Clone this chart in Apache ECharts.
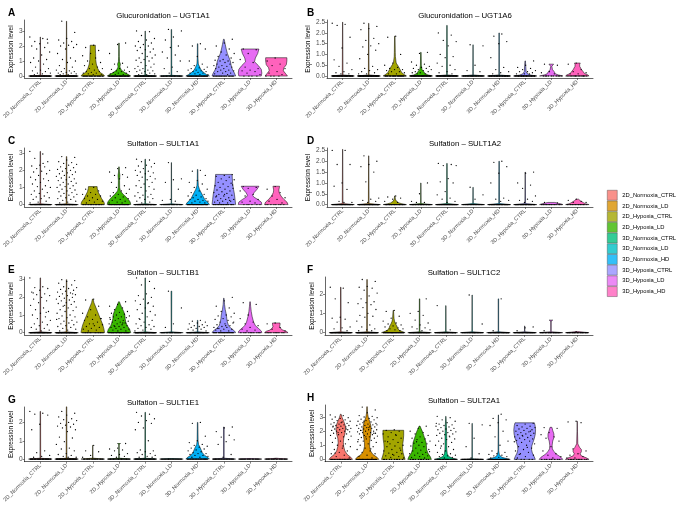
<!DOCTYPE html>
<html>
<head>
<meta charset="utf-8">
<script src="https://cdn.jsdelivr.net/npm/echarts@6/dist/echarts.min.js"></script>
<style>
  html, body { margin: 0; padding: 0; background: #fff; }
  #chart { width: 677px; height: 505px; }
</style>
</head>
<body>
<div id="chart"></div>
<script>
// groups shown on every x axis, in order
const groups = ['2D_Normoxia_CTRL', '2D_Normoxia_LD', '2D_Hypoxia_CTRL', '2D_Hypoxia_LD',
  '3D_Normoxia_CTRL', '3D_Normoxia_LD', '3D_Normoxia_HD', '3D_Hypoxia_CTRL', '3D_Hypoxia_LD', '3D_Hypoxia_HD'];
const colors = ['#F8766D', '#D89000', '#A3A500', '#39B600', '#00BF7D', '#00BFC4', '#00B0F6', '#9590FF', '#E76BF3', '#FF62BC'];

// violin outlines: [expression level, relative half width] per group
// points: non-zero expression values per group, zero: number of cells at 0

// A - UGT1A1
const ugt1a1Shape = [
  [[0, 1], [0.05, 0.03], [2.6, 0.01]],
  [[0, 1], [0.05, 0.03], [3.65, 0.01]],
  [[0, 1], [0.1, 0.9], [0.25, 0.6], [0.5, 0.42], [0.8, 0.3], [1.1, 0.25], [1.5, 0.24], [1.8, 0.22], [2.05, 0.22]],
  [[0, 1], [0.1, 0.8], [0.25, 0.45], [0.4, 0.2], [0.6, 0.08], [0.8, 0.12], [0.95, 0.05], [1.3, 0.03], [2.2, 0.02]],
  [[0, 1], [0.05, 0.03], [3.0, 0.01]],
  [[0, 1], [0.05, 0.03], [3.1, 0.02]],
  [[0, 1], [0.1, 0.75], [0.25, 0.5], [0.4, 0.3], [0.55, 0.2], [0.8, 0.06], [1.2, 0.03], [2.15, 0.02]],
  [[0, 1], [0.2, 0.9], [0.4, 0.75], [0.6, 0.65], [0.8, 0.6], [1.0, 0.55], [1.2, 0.45], [1.5, 0.3], [1.8, 0.2], [2.1, 0.12], [2.45, 0.03]],
  [[0, 0.95], [0.2, 1.0], [0.45, 0.95], [0.7, 0.7], [0.95, 0.38], [1.2, 0.45], [1.5, 0.65], [1.8, 0.75]],
  [[0, 0.95], [0.15, 0.8], [0.35, 0.6], [0.55, 0.65], [0.75, 0.85], [1.0, 0.9], [1.22, 0.9]]
];
const ugt1a1Pts = [
  [2.6, 2.5, 2.3, 2.2, 2.15, 2.0, 1.9, 1.8, 1.6, 1.4, 1.2, 1.1, 1.0, 0.9, 0.8, 0.6, 0.5, 0.4, 0.35, 0.3, 0.2, 0.2, 0.15, 0.1, 2.45],
  [3.65, 2.9, 2.5, 2.4, 2.3, 2.2, 2.1, 2.05, 2.0, 1.9, 1.8, 1.5, 1.2, 1.1, 1.0, 0.9, 0.7, 0.6, 0.5, 0.4, 0.35, 0.3, 0.3, 0.25, 0.2, 0.2, 0.15, 0.15, 0.1, 0.1],
  [2.05, 1.9, 1.7, 1.5, 1.35, 1.2, 1.0, 0.9, 0.8, 0.7, 0.6, 0.5, 0.5, 0.4, 0.3, 0.3, 0.25, 0.2, 0.2, 0.15, 0.1, 0.1],
  [2.2, 2.1, 1.5, 0.85, 0.8, 0.6, 0.5, 0.45, 0.4, 0.35, 0.3, 0.3, 0.25, 0.2, 0.2, 0.15, 0.1, 0.1],
  [3.0, 2.95, 2.7, 2.5, 2.4, 2.3, 2.2, 2.1, 2.0, 2.0, 1.9, 1.8, 1.75, 1.7, 1.6, 1.5, 1.4, 1.3, 1.2, 1.2, 1.1, 1.05, 1.0, 0.9, 0.8, 0.7, 0.65, 0.6, 0.5, 0.5, 0.4, 0.4, 0.35, 0.3, 0.3, 0.2, 0.2, 0.15, 0.1, 0.1],
  [3.1, 3.0, 2.6, 2.4, 2.0, 1.9, 1.6, 1.4, 1.2, 1.0, 0.6, 0.5, 0.3, 0.2],
  [2.15, 2.0, 1.8, 1.3, 1.0, 0.8, 0.7, 0.6, 0.55, 0.5, 0.45, 0.4, 0.4, 0.35, 0.3, 0.3, 0.25, 0.2, 0.2, 0.15, 0.1, 0.1],
  [2.45, 2.2, 2.0, 1.8, 1.6, 1.5, 1.4, 1.3, 1.2, 1.1, 1.05, 1.0, 1.0, 0.9, 0.9, 0.8, 0.8, 0.7, 0.7, 0.65, 0.6, 0.6, 0.5, 0.5, 0.4, 0.4, 0.35, 0.3, 0.3, 0.2, 0.2, 0.15, 0.1],
  [1.8, 1.75, 1.5, 1.1, 0.9, 0.6, 0.5, 0.4, 0.35, 0.3, 0.2, 0.1],
  [1.2, 1.0, 0.8, 0.7, 0.5, 0.3, 0.2, 0.1]
];
const ugt1a1Zero = [60, 70, 30, 50, 60, 40, 45, 20, 4, 4];

// B - UGT1A6
const ugt1a6Shape = [
  [[0, 1], [0.05, 0.03], [2.5, 0.01]],
  [[0, 1], [0.05, 0.03], [2.45, 0.01]],
  [[0, 1], [0.05, 0.85], [0.15, 0.6], [0.3, 0.45], [0.45, 0.3], [0.6, 0.12], [0.9, 0.05], [1.1, 0.04], [1.85, 0.02]],
  [[0, 1], [0.05, 0.6], [0.12, 0.35], [0.2, 0.25], [0.3, 0.1], [0.5, 0.04], [1.1, 0.02]],
  [[0, 1], [0.05, 0.03], [2.35, 0.02]],
  [[0, 1], [0.05, 0.02], [1.45, 0.01]],
  [[0, 1], [0.05, 0.02], [2.0, 0.02]],
  [[0, 1], [0.04, 0.5], [0.1, 0.2], [0.2, 0.08], [0.7, 0.02]],
  [[0, 1], [0.05, 0.6], [0.1, 0.35], [0.2, 0.25], [0.3, 0.1], [0.45, 0.05], [0.55, 0.2]],
  [[0, 1], [0.05, 0.9], [0.12, 0.6], [0.2, 0.5], [0.3, 0.35], [0.45, 0.2], [0.55, 0.2], [0.6, 0.25]]
];
const ugt1a6Pts = [
  [2.45, 2.4, 2.35, 1.8, 1.3, 0.75, 0.6, 0.45, 0.3, 0.2, 0.15, 0.1, 0.1],
  [2.45, 2.3, 2.2, 2.15, 1.75, 1.65, 1.5, 1.4, 1.35, 1.2, 1.0, 0.8, 0.45, 0.35, 0.3, 0.25, 0.2, 0.15, 0.1, 0.1],
  [1.85, 1.8, 1.0, 0.6, 0.5, 0.4, 0.35, 0.3, 0.3, 0.25, 0.2, 0.2, 0.15, 0.1, 0.1],
  [1.1, 1.05, 0.65, 0.55, 0.5, 0.45, 0.4, 0.35, 0.35, 0.3, 0.3, 0.25, 0.2, 0.2, 0.15, 0.15, 0.1, 0.1],
  [2.0, 1.9, 1.65, 1.6, 1.4, 1.0, 0.9, 0.85, 0.6, 0.5, 0.45, 0.3, 0.2, 0.15, 0.1],
  [1.45, 1.4, 0.5, 0.25, 0.2],
  [1.95, 1.85, 1.6, 1.5, 0.85, 0.4, 0.3, 0.2, 0.15, 0.1],
  [0.7, 0.5, 0.4, 0.35, 0.3, 0.25, 0.2, 0.2, 0.15, 0.1, 0.1, 0.1],
  [0.55, 0.5, 0.2, 0.15, 0.1],
  [0.6, 0.55, 0.3, 0.2, 0.15, 0.1, 0.1]
];
const ugt1a6Zero = [50, 60, 30, 50, 50, 35, 45, 40, 10, 15];

// C - SULT1A1
const sult1a1Shape = [
  [[0, 1], [0.05, 0.03], [3.1, 0.02]],
  [[0, 1], [0.05, 0.03], [2.8, 0.02]],
  [[0, 1], [0.15, 0.95], [0.35, 0.75], [0.55, 0.6], [0.75, 0.45], [0.95, 0.38], [1.05, 0.37]],
  [[0, 1], [0.15, 0.95], [0.3, 0.8], [0.45, 0.6], [0.6, 0.35], [0.8, 0.12], [1.0, 0.06], [1.4, 0.05], [1.7, 0.08], [1.9, 0.04], [2.2, 0.02]],
  [[0, 1], [0.05, 0.03], [2.65, 0.02]],
  [[0, 1], [0.05, 0.02], [2.45, 0.01]],
  [[0, 1], [0.15, 0.85], [0.3, 0.6], [0.5, 0.45], [0.7, 0.3], [0.9, 0.15], [1.1, 0.06], [1.5, 0.03], [2.05, 0.02]],
  [[0, 1], [0.3, 0.95], [0.6, 0.9], [0.9, 0.82], [1.2, 0.75], [1.5, 0.72], [1.76, 0.7]],
  [[0, 1], [0.15, 0.95], [0.3, 0.65], [0.45, 0.3], [0.55, 0.22], [0.7, 0.35], [0.9, 0.6], [1.07, 0.75]],
  [[0, 1], [0.15, 0.9], [0.3, 0.65], [0.5, 0.4], [0.7, 0.25], [0.85, 0.22], [1.07, 0.28]]
];
const sult1a1Pts = [
  [3.1, 2.95, 2.7, 2.5, 2.3, 2.25, 2.2, 2.1, 2.0, 1.95, 1.9, 1.8, 1.7, 1.6, 1.5, 1.45, 1.4, 1.3, 1.2, 1.1, 1.05, 1.0, 0.9, 0.8, 0.7, 0.65, 0.6, 0.5, 0.45, 0.4, 0.35, 0.3, 0.2, 0.15, 0.1, 2.4],
  [2.8, 2.75, 2.6, 2.5, 2.45, 2.4, 2.35, 2.3, 2.2, 2.15, 2.1, 2.05, 2.0, 1.95, 1.9, 1.85, 1.8, 1.75, 1.7, 1.65, 1.6, 1.55, 1.5, 1.45, 1.4, 1.35, 1.3, 1.25, 1.2, 1.15, 1.1, 1.05, 1.0, 0.95, 0.9, 0.85, 0.8, 0.75, 0.7, 0.65, 0.6, 0.55, 0.5, 0.45, 0.4, 0.35, 0.3, 0.25, 0.2, 0.15, 0.1],
  [1.0, 0.9, 0.8, 0.7, 0.6, 0.6, 0.5, 0.5, 0.4, 0.35, 0.3, 0.25, 0.2, 0.15, 0.1],
  [2.15, 2.1, 1.9, 1.75, 1.7, 1.6, 1.5, 1.3, 1.1, 1.0, 0.9, 0.8, 0.7, 0.65, 0.6, 0.5, 0.45, 0.4, 0.35, 0.3, 0.25, 0.2, 0.15, 0.1, 0.1],
  [2.65, 2.6, 2.5, 2.4, 2.3, 2.25, 2.2, 2.1, 2.0, 1.95, 1.9, 1.85, 1.8, 1.7, 1.65, 1.6, 1.5, 1.45, 1.4, 1.3, 1.2, 1.1, 1.05, 1.0, 0.9, 0.8, 0.7, 0.6, 0.55, 0.5, 0.45, 0.4, 0.35, 0.3, 0.2, 0.15, 0.1],
  [2.45, 1.5, 1.45, 1.3, 0.9, 0.3, 0.25, 0.2],
  [2.0, 1.95, 1.7, 1.4, 1.3, 1.2, 1.0, 0.9, 0.8, 0.7, 0.6, 0.55, 0.5, 0.45, 0.4, 0.35, 0.3, 0.3, 0.25, 0.2, 0.2, 0.15, 0.1, 0.1],
  [1.75, 1.7, 1.65, 1.6, 1.5, 1.45, 1.4, 1.3, 1.25, 1.2, 1.1, 1.05, 1.0, 0.95, 0.9, 0.85, 0.8, 0.75, 0.7, 0.65, 0.6, 0.55, 0.5, 0.45, 0.4, 0.35, 0.3, 0.3, 0.25, 0.2, 0.2, 0.15, 0.1, 0.1, 1.15, 0.6, 0.5, 0.25],
  [1.05, 1.0, 0.95, 0.8, 0.6, 0.5, 0.3, 0.2, 0.15, 0.1],
  [1.05, 0.9, 0.7, 0.5, 0.4, 0.3, 0.2, 0.1]
];
const sult1a1Zero = [50, 60, 25, 40, 50, 30, 40, 20, 6, 8];

// D - SULT1A2
const sult1a2Shape = [
  [[0, 1], [0.05, 0.03], [2.55, 0.01]],
  [[0, 1], [0.05, 0.03], [2.25, 0.01]],
  [[0, 1], [0.04, 0.6], [0.08, 0.35], [0.15, 0.15], [0.25, 0.05], [0.4, 0.02]],
  [[0, 1], [0.05, 0.02], [1.0, 0.01]],
  [[0, 1], [0.05, 0.03], [1.9, 0.02]],
  [[0, 1], [0.05, 0.02], [0.8, 0.01]],
  [[0, 1], [0.05, 0.03], [2.0, 0.02]],
  [[0, 1], [0.05, 0.03], [1.5, 0.01]],
  [[0, 1], [0.03, 0.85], [0.06, 0.6], [0.1, 0.3]],
  [[0, 1], [0.04, 0.7], [0.08, 0.55], [0.13, 0.4], [0.18, 0.25], [0.25, 0.1]]
];
const sult1a2Pts = [
  [2.5, 2.5, 1.85, 1.85, 1.0, 0.85, 0.7, 0.15, 0.1, 0.1],
  [2.25, 2.0, 1.85, 1.75, 1.5, 1.05, 0.3, 0.25, 0.2, 0.15, 0.1],
  [0.4, 0.35, 0.3, 0.25, 0.15, 0.1],
  [1.0, 0.5, 0.15, 0.1, 0.1],
  [1.9, 1.85, 1.8, 1.8, 1.2, 1.05, 1.0, 0.6, 0.45, 0.3, 0.25, 0.15, 0.1],
  [0.8, 0.45, 0.25],
  [2.0, 1.95, 1.75, 1.45, 1.0, 0.3, 0.25, 0.2, 0.15],
  [1.5, 1.45, 1.0, 0.9, 0.75, 0.4, 0.25, 0.2, 0.15, 0.1],
  [0.1, 0.08],
  [0.25, 0.2, 0.15, 0.1, 0.1]
];
const sult1a2Zero = [50, 60, 40, 45, 55, 35, 50, 50, 20, 20];

// E - SULT1B1
const sult1b1Shape = [
  [[0, 1], [0.05, 0.03], [3.1, 0.02]],
  [[0, 1], [0.05, 0.03], [3.0, 0.02]],
  [[0, 1], [0.2, 0.95], [0.45, 0.85], [0.7, 0.7], [0.95, 0.55], [1.2, 0.4], [1.45, 0.25], [1.7, 0.1], [1.9, 0.03]],
  [[0, 1], [0.2, 0.9], [0.4, 0.7], [0.6, 0.58], [0.8, 0.52], [1.0, 0.5], [1.2, 0.4], [1.4, 0.25], [1.6, 0.12], [1.75, 0.04]],
  [[0, 1], [0.05, 0.03], [3.1, 0.02]],
  [[0, 1], [0.05, 0.02], [2.35, 0.03]],
  [[0, 1], [0.05, 0.02], [0.7, 0.02]],
  [[0, 1], [0.1, 0.9], [0.25, 0.6], [0.4, 0.4], [0.6, 0.3], [0.8, 0.25], [1.0, 0.22], [1.3, 0.12], [1.6, 0.06], [1.95, 0.02]],
  [[0, 1], [0.1, 0.95], [0.25, 0.7], [0.4, 0.45], [0.6, 0.3], [0.9, 0.18], [1.2, 0.1], [1.5, 0.05], [1.75, 0.02]],
  [[0, 1], [0.08, 0.85], [0.15, 0.55], [0.25, 0.35], [0.35, 0.28], [0.45, 0.32], [0.55, 0.32]]
];
const sult1b1Pts = [
  [3.1, 2.6, 2.55, 2.5, 2.4, 2.3, 2.2, 2.15, 2.1, 2.0, 1.9, 1.8, 1.7, 1.55, 1.4, 1.3, 1.2, 1.1, 1.0, 0.9, 0.8, 0.7, 0.6, 0.5, 0.45, 0.4, 0.3, 0.25, 0.2, 0.15, 0.1, 2.25, 1.15],
  [3.0, 2.95, 2.9, 2.8, 2.7, 2.6, 2.55, 2.5, 2.45, 2.4, 2.35, 2.3, 2.25, 2.2, 2.15, 2.1, 2.05, 2.0, 1.95, 1.9, 1.85, 1.8, 1.75, 1.7, 1.65, 1.6, 1.5, 1.45, 1.4, 1.3, 1.25, 1.2, 1.1, 1.0, 0.95, 0.9, 0.85, 0.8, 0.7, 0.65, 0.6, 0.55, 0.5, 0.45, 0.4, 0.35, 0.3, 0.25, 0.2, 0.15, 0.1, 2.2, 1.55, 0.75],
  [1.9, 1.85, 1.5, 1.3, 1.1, 1.0, 0.9, 0.8, 0.75, 0.7, 0.6, 0.5, 0.45, 0.4, 0.35, 0.3, 0.25, 0.2, 0.15, 0.1, 0.8, 0.5],
  [1.75, 1.6, 1.5, 1.4, 1.3, 1.2, 1.15, 1.1, 1.05, 1.0, 0.95, 0.9, 0.9, 0.85, 0.8, 0.75, 0.7, 0.7, 0.65, 0.6, 0.6, 0.55, 0.5, 0.5, 0.45, 0.4, 0.4, 0.35, 0.3, 0.3, 0.25, 0.2, 0.2, 0.15, 0.1, 0.1, 0.85, 0.55, 0.35],
  [3.1, 2.9, 2.7, 2.5, 2.2, 2.1, 2.0, 1.9, 1.8, 1.7, 1.6, 1.5, 1.4, 1.3, 1.2, 1.1, 1.0, 0.9, 0.8, 0.7, 0.6, 0.5, 0.45, 0.4, 0.35, 0.3, 0.25, 0.2, 0.15, 0.1, 1.65, 0.75],
  [2.35, 1.4, 0.5, 0.3],
  [0.7, 0.65, 0.6, 0.55, 0.5, 0.45, 0.4, 0.4, 0.35, 0.3, 0.3, 0.25, 0.2, 0.2, 0.15, 0.1],
  [2.0, 1.8, 1.5, 1.4, 1.2, 1.1, 1.0, 0.95, 0.9, 0.8, 0.75, 0.7, 0.6, 0.55, 0.5, 0.45, 0.4, 0.35, 0.3, 0.3, 0.25, 0.2, 0.2, 0.15, 0.1, 0.1, 0.6, 0.4, 0.25],
  [1.7, 1.6, 1.0, 0.8, 0.6, 0.5, 0.4, 0.3, 0.2, 0.15, 0.1],
  [0.55, 0.5, 0.3, 0.2, 0.1]
];
const sult1b1Zero = [50, 60, 20, 30, 50, 30, 40, 20, 10, 10];

// F - SULT1C2
const sult1c2Shape = [
  [[0, 1], [0.05, 0.03], [2.35, 0.02]],
  [[0, 1], [0.05, 0.03], [2.75, 0.02]],
  [[0, 1], [0.05, 0.8], [0.12, 0.5], [0.25, 0.35], [0.35, 0.3], [0.45, 0.2], [0.6, 0.1], [0.75, 0.06], [1.15, 0.02]],
  [[0, 1], [0.05, 0.03], [1.75, 0.02]],
  [[0, 1], [0.05, 0.02], [1.4, 0.01]],
  [[0, 1], [0.05, 0.02], [1.95, 0.01]],
  [[0, 1], [0.05, 0.02], [1.75, 0.02]],
  [[0, 1], [0.05, 0.02], [0.35, 0.01]],
  [[0, 1], [0.05, 0.02], [0.6, 0.02], [0.65, 0.15]],
  [[0, 1], [0.03, 0.5], [0.06, 0.02]]
];
const sult1c2Pts = [
  [2.35, 2.3, 1.75, 1.55, 0.8, 0.75, 0.7, 0.55, 0.3, 0.25, 0.2, 0.1],
  [2.75, 2.65, 2.4, 2.35, 2.3, 2.2, 2.05, 1.9, 1.75, 1.6, 1.55, 1.5, 1.45, 1.3, 1.2, 1.0, 0.9, 0.85, 0.8, 0.6, 0.4, 0.3, 0.2, 0.15, 0.1, 0.1],
  [1.15, 1.1, 0.85, 0.75, 0.6, 0.5, 0.45, 0.4, 0.35, 0.3, 0.25, 0.2, 0.2, 0.15, 0.1, 0.1],
  [1.75, 1.1, 1.0, 0.9, 0.65, 0.5, 0.4, 0.3, 0.25, 0.2, 0.15, 0.1],
  [1.4, 0.15],
  [1.95, 0.45],
  [1.75, 0.1],
  [0.3, 0.25, 0.1],
  [0.1],
  [0.05]
];
const sult1c2Zero = [50, 55, 35, 45, 40, 35, 40, 40, 30, 30];

// G - SULT1E1
const sult1e1Shape = [
  [[0, 1], [0.05, 0.03], [2.6, 0.02]],
  [[0, 1], [0.05, 0.03], [2.85, 0.02]],
  [[0, 1], [0.05, 0.02], [0.75, 0.01]],
  [[0, 1], [0.05, 0.02], [0.8, 0.02], [0.85, 0.13]],
  [[0, 1], [0.05, 0.03], [2.55, 0.02]],
  [[0, 1], [0.03, 0.02]],
  [[0, 1], [0.1, 0.85], [0.2, 0.6], [0.35, 0.4], [0.5, 0.3], [0.65, 0.2], [0.8, 0.08], [1.0, 0.04], [2.0, 0.02]],
  [[0, 1], [0.05, 0.03], [1.75, 0.03]],
  [[0, 1], [0.03, 0.02]],
  [[0, 1], [0.03, 0.3], [0.05, 0.02]]
];
const sult1e1Pts = [
  [2.6, 2.5, 2.45, 2.4, 1.9, 1.6, 0.45, 0.35, 0.2, 0.15, 0.1],
  [2.6, 2.5, 2.4, 2.3, 2.2, 2.15, 2.1, 2.0, 1.95, 1.9, 1.85, 1.8, 1.75, 1.7, 1.6, 1.5, 1.2, 1.15, 0.95, 0.8, 0.6, 0.55, 0.45, 0.3, 0.25, 0.2, 0.15, 0.1, 0.1],
  [0.75, 0.45, 0.4, 0.2, 0.1],
  [0.85, 0.6, 0.55, 0.5, 0.45, 0.3, 0.25, 0.2, 0.15, 0.1],
  [2.55, 2.45, 2.35, 2.2, 2.1, 2.0, 1.95, 1.7, 1.6, 1.0, 0.5, 0.45, 0.4, 0.35, 0.3, 0.25, 0.2, 0.15, 0.1, 0.1],
  [],
  [2.0, 1.95, 1.25, 1.0, 0.9, 0.8, 0.75, 0.7, 0.65, 0.6, 0.55, 0.5, 0.45, 0.4, 0.35, 0.3, 0.3, 0.25, 0.2, 0.2, 0.15, 0.1, 0.1],
  [1.75, 1.7, 1.5, 1.3, 1.2, 1.05, 0.95, 0.8, 0.25, 0.1],
  [],
  [0.03]
];
const sult1e1Zero = [50, 60, 30, 40, 50, 35, 35, 35, 30, 30];

// H - SULT2A1
const sult2a1Shape = [
  [[0, 1], [0.15, 0.85], [0.35, 0.55], [0.6, 0.35], [0.9, 0.25], [1.2, 0.22], [1.5, 0.25], [1.8, 0.35], [2.1, 0.4], [2.4, 0.38], [2.7, 0.25], [2.95, 0.12], [3.2, 0.03]],
  [[0, 1], [0.15, 0.85], [0.35, 0.5], [0.6, 0.3], [0.9, 0.22], [1.2, 0.22], [1.5, 0.27], [1.8, 0.32], [2.1, 0.35], [2.4, 0.32], [2.7, 0.22], [3.0, 0.1], [3.3, 0.04], [3.73, 0.02]],
  [[0, 1], [0.25, 0.9], [0.5, 0.82], [0.8, 0.78], [1.1, 0.8], [1.4, 0.85], [1.7, 0.88], [2.06, 0.88]],
  [[0, 1], [0.2, 0.9], [0.45, 0.7], [0.7, 0.6], [0.95, 0.58], [1.2, 0.55], [1.45, 0.45], [1.7, 0.35], [1.95, 0.25], [2.2, 0.12], [2.36, 0.04]],
  [[0, 1], [0.08, 0.6], [0.2, 0.25], [0.4, 0.12], [0.7, 0.08], [1.0, 0.07], [1.5, 0.07], [2.0, 0.06], [2.5, 0.04], [3.05, 0.01]],
  [[0, 1], [0.05, 0.02], [2.55, 0.01]],
  [[0, 1], [0.08, 0.6], [0.15, 0.3], [0.25, 0.15], [0.35, 0.08], [0.6, 0.03], [3.15, 0.01]],
  [[0, 0.9], [0.2, 0.8], [0.45, 0.65], [0.7, 0.58], [0.95, 0.6], [1.2, 0.7], [1.5, 0.82], [1.8, 0.9], [2.1, 0.92], [2.4, 0.88], [2.59, 0.82]],
  [[0, 1], [0.15, 0.85], [0.35, 0.5], [0.55, 0.25], [0.75, 0.12], [1.0, 0.1], [1.3, 0.15], [1.55, 0.25], [1.8, 0.25], [2.05, 0.15], [2.27, 0.08]],
  [[0, 1], [0.1, 0.8], [0.25, 0.35], [0.4, 0.25], [0.55, 0.35], [0.7, 0.35], [0.85, 0.2], [1.1, 0.05], [2.0, 0.02], [2.7, 0.01]]
];
const sult2a1Pts = [
  [3.15, 3.1, 3.0, 2.95, 2.9, 2.85, 2.8, 2.75, 2.7, 2.65, 2.6, 2.55, 2.5, 2.5, 2.45, 2.4, 2.4, 2.35, 2.3, 2.3, 2.25, 2.2, 2.2, 2.15, 2.1, 2.1, 2.05, 2.0, 2.0, 1.95, 1.9, 1.85, 1.8, 1.75, 1.7, 1.6, 1.5, 1.4, 1.3, 1.2, 1.1, 1.0, 0.9, 0.8, 0.7, 0.6, 0.5, 0.4, 0.3, 0.2, 0.1, 2.6, 2.35, 2.15, 1.9, 1.65, 0.95, 0.45],
  [3.7, 3.5, 3.3, 3.1, 3.05, 3.0, 2.95, 2.9, 2.85, 2.8, 2.75, 2.7, 2.65, 2.6, 2.55, 2.5, 2.5, 2.45, 2.4, 2.4, 2.35, 2.3, 2.3, 2.25, 2.2, 2.2, 2.15, 2.1, 2.1, 2.05, 2.0, 2.0, 1.95, 1.9, 1.9, 1.85, 1.8, 1.8, 1.75, 1.7, 1.65, 1.6, 1.55, 1.5, 1.45, 1.4, 1.35, 1.3, 1.2, 1.1, 1.0, 0.9, 0.8, 0.7, 0.6, 0.5, 0.4, 0.3, 0.2, 0.1, 2.7, 2.45, 2.25, 2.05, 1.85, 1.6, 1.25, 0.75],
  [2.1, 2.05, 2.0, 1.9, 1.8, 1.7, 1.6, 1.5, 1.4, 1.3, 1.2, 1.1, 1.0, 0.95, 0.9, 0.8, 0.7, 0.6, 0.5, 0.45, 0.4, 0.3, 0.25, 0.2, 0.15, 0.1, 1.75, 1.25, 0.65, 0.35],
  [2.35, 2.2, 2.0, 1.9, 1.8, 1.7, 1.6, 1.5, 1.45, 1.4, 1.3, 1.2, 1.15, 1.1, 1.0, 0.95, 0.9, 0.8, 0.7, 0.65, 0.6, 0.5, 0.45, 0.4, 0.35, 0.3, 0.25, 0.2, 0.15, 0.1, 1.25, 0.55],
  [3.05, 2.95, 2.8, 2.7, 2.6, 2.5, 2.45, 2.4, 2.35, 2.3, 2.25, 2.2, 2.15, 2.1, 2.05, 2.0, 1.95, 1.9, 1.85, 1.8, 1.75, 1.7, 1.6, 1.5, 1.45, 1.4, 1.3, 1.2, 1.1, 1.0, 0.9, 0.8, 0.7, 0.6, 0.5, 0.4, 0.35, 0.3, 0.25, 0.2, 0.15, 0.1, 2.55, 1.65, 0.95],
  [2.55, 2.45, 1.5, 0.9, 0.4, 0.1],
  [3.2, 2.9, 2.8, 2.6, 2.4, 2.0, 1.6, 1.3, 1.0, 0.6, 0.5, 0.4, 0.35, 0.3, 0.25, 0.2, 0.15, 0.1],
  [2.55, 2.5, 2.4, 2.35, 2.3, 2.25, 2.2, 2.15, 2.1, 2.05, 2.0, 1.95, 1.9, 1.85, 1.8, 1.75, 1.7, 1.65, 1.6, 1.55, 1.5, 1.45, 1.4, 1.35, 1.3, 1.2, 1.1, 1.0, 0.9, 0.8, 0.7, 0.6, 0.5, 0.4, 0.3, 0.2, 0.1, 2.0, 1.7, 1.25, 0.85, 0.35],
  [2.25, 2.2, 1.9, 1.75, 1.6, 1.5, 1.3, 0.9, 0.6, 0.4, 0.3, 0.2, 0.1],
  [2.7, 2.65, 2.6, 0.75, 0.6, 0.4, 0.3, 0.2, 0.1, 0.1]
];
const sult2a1Zero = [25, 25, 10, 10, 30, 30, 30, 5, 8, 10];

const font = '"Liberation Sans", Arial, sans-serif';
const catPos = groups.map((g, i) => i + 1);

// panel layout: [left, top, width, height] of each plot area, y range
const panels = [
  { letter: 'A', title: 'Glucuronidation \u2013 UGT1A1', shape: ugt1a1Shape, pts: ugt1a1Pts, zero: ugt1a1Zero,
    box: [24, 20, 268, 58], yMin: -0.13, yMax: 3.73, ticks: [0, 1, 2, 3], dec: 0 },
  { letter: 'B', title: 'Glucuronidation \u2013 UGT1A6', shape: ugt1a6Shape, pts: ugt1a6Pts, zero: ugt1a6Zero,
    box: [327, 20, 266, 58], yMin: -0.093, yMax: 2.6, ticks: [0, 0.5, 1, 1.5, 2, 2.5], dec: 1 },
  { letter: 'C', title: 'Sulfation \u2013 SULT1A1', shape: sult1a1Shape, pts: sult1a1Pts, zero: sult1a1Zero,
    box: [24, 148, 268, 59], yMin: -0.14, yMax: 3.3, ticks: [0, 1, 2, 3], dec: 0 },
  { letter: 'D', title: 'Sulfation \u2013 SULT1A2', shape: sult1a2Shape, pts: sult1a2Pts, zero: sult1a2Zero,
    box: [327, 148, 266, 59], yMin: -0.11, yMax: 2.61, ticks: [0, 0.5, 1, 1.5, 2, 2.5], dec: 1 },
  { letter: 'E', title: 'Sulfation \u2013 SULT1B1', shape: sult1b1Shape, pts: sult1b1Pts, zero: sult1b1Zero,
    box: [24, 277, 268, 58], yMin: -0.13, yMax: 3.15, ticks: [0, 1, 2, 3], dec: 0 },
  { letter: 'F', title: 'Sulfation \u2013 SULT1C2', shape: sult1c2Shape, pts: sult1c2Pts, zero: sult1c2Zero,
    box: [325, 277, 268, 58], yMin: -0.12, yMax: 2.88, ticks: [0, 1, 2], dec: 0 },
  { letter: 'G', title: 'Sulfation \u2013 SULT1E1', shape: sult1e1Shape, pts: sult1e1Pts, zero: sult1e1Zero,
    box: [24, 407, 268, 56], yMin: -0.14, yMax: 2.84, ticks: [0, 1, 2], dec: 0 },
  { letter: 'H', title: 'Sulfation \u2013 SULT2A1', shape: sult2a1Shape, pts: sult2a1Pts, zero: sult2a1Zero,
    box: [325, 405, 268, 58], yMin: -0.16, yMax: 3.85, ticks: [0, 1, 2, 3], dec: 0 }
];

// spread cells of one group sideways (ggplot jitter, width 0.4)
function jitter(k, gi) {
  const f = (k * 0.6180339887 + gi * 0.2718) % 1;
  return (f - 0.5) * 0.8;
}

const chart = echarts.init(document.getElementById('chart'), null, { renderer: 'canvas' });

const grid = [], xAxis = [], yAxis = [], series = [], title = [];

panels.forEach((p, pi) => {
  const [l, t, w, h] = p.box;
  grid.push({ left: l, top: t, width: w, height: h, containLabel: false });

  xAxis.push({
    type: 'value', gridIndex: pi, min: 0.4, max: 10.6,
    axisLine: { show: true, onZero: false, lineStyle: { color: '#000', width: 0.6 } },
    axisTick: { show: true, length: 2, customValues: catPos, lineStyle: { color: '#333', width: 0.6 } },
    axisLabel: {
      customValues: catPos, rotate: 45, margin: 3, fontSize: 5.5, color: '#4d4d4d', fontFamily: font,
      formatter: v => groups[Math.round(v) - 1]
    },
    splitLine: { show: false }
  });

  yAxis.push({
    type: 'value', gridIndex: pi, min: p.yMin, max: p.yMax,
    axisLine: { show: true, onZero: false, lineStyle: { color: '#000', width: 0.6 } },
    axisTick: { show: true, length: 2, customValues: p.ticks, lineStyle: { color: '#333', width: 0.6 } },
    axisLabel: {
      customValues: p.ticks, margin: 2, fontSize: 6.5, color: '#4d4d4d', fontFamily: font,
      formatter: v => p.dec ? v.toFixed(1) : String(v)
    },
    splitLine: { show: false },
    name: 'Expression level', nameLocation: 'middle', nameRotate: 90, nameGap: p.dec ? 14 : 9,
    nameTextStyle: { fontSize: 6.5, color: '#000', fontFamily: font }
  });

  title.push({
    text: p.title, left: l + w / 2, top: t - 13, textAlign: 'center',
    textStyle: { fontSize: 7.8, fontWeight: 'normal', color: '#000', fontFamily: font }
  });
  title.push({
    text: p.letter, left: l < 200 ? 3 : 302, top: t - 17,
    textStyle: { fontSize: 10, fontWeight: 'bold', color: '#000', fontFamily: font }
  });

  // violins
  series.push({
    type: 'custom', xAxisIndex: pi, yAxisIndex: pi, silent: true,
    data: catPos.map(x => [x, 0]),
    renderItem: (params, api) => {
      const gi = params.dataIndex;
      const prof = p.shape[gi];
      const x = gi + 1;
      const hw = api.size([1, 0])[0] * 0.45;
      const cx = api.coord([x, 0])[0];
      const right = prof.map(q => [cx + q[1] * hw, api.coord([x, q[0]])[1]]);
      const left = prof.slice().reverse().map(q => [cx - q[1] * hw, api.coord([x, q[0]])[1]]);
      return {
        type: 'polygon',
        shape: { points: right.concat(left) },
        style: { fill: colors[gi], stroke: '#000', lineWidth: 0.5 }
      };
    }
  });

  // cells
  const cells = [];
  p.pts.forEach((vals, gi) => {
    vals.forEach((v, k) => cells.push([gi + 1, v, k]));
    for (let k = 0; k < p.zero[gi]; k++) cells.push([gi + 1, 0, vals.length + k]);
  });
  series.push({
    type: 'custom', xAxisIndex: pi, yAxisIndex: pi, silent: true, z: 3,
    data: cells,
    renderItem: (params, api) => {
      const x = api.value(0);
      const pos = api.coord([x + jitter(api.value(2), x - 1), api.value(1)]);
      return { type: 'circle', shape: { cx: pos[0], cy: pos[1], r: 0.65 }, style: { fill: '#000' } };
    }
  });
});

// empty series so the legend lists the groups
groups.forEach((g, i) => {
  series.push({ type: 'scatter', name: g, data: [], xAxisIndex: 0, yAxisIndex: 0, itemStyle: { color: colors[i] } });
});

chart.setOption({
  animation: false,
  backgroundColor: '#fff',
  title: title,
  grid: grid,
  xAxis: xAxis,
  yAxis: yAxis,
  legend: {
    data: groups, orient: 'vertical', left: 607, top: 190, padding: 0, icon: 'rect',
    itemWidth: 10, itemHeight: 10, itemGap: 0.2, selectedMode: false,
    itemStyle: { borderColor: '#444', borderWidth: 0.5 },
    textStyle: { fontSize: 5.8, color: '#000', fontFamily: font }
  },
  series: series
});
</script>
</body>
</html>
